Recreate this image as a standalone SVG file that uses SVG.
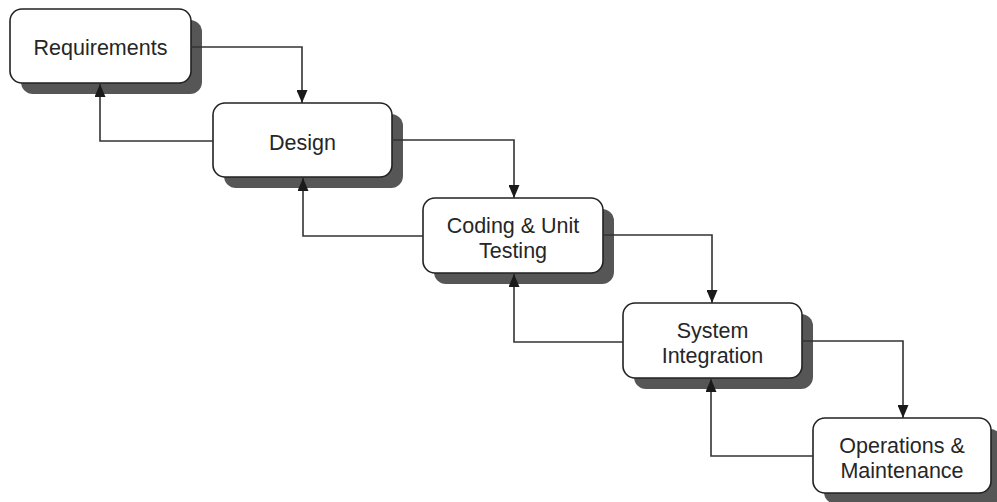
<svg xmlns="http://www.w3.org/2000/svg" width="997" height="502" viewBox="0 0 997 502">
  <style>
    .shadow { fill: #565656; }
    .box { fill: #ffffff; stroke: #222222; stroke-width: 1.6; }
    .label { font-family: "Liberation Sans", Arial, sans-serif; font-size: 21.5px; fill: #262626; text-anchor: middle; }
    .wire { fill: none; stroke: #333333; stroke-width: 1.6; }
  </style>
  <defs>
    <marker id="arrow" viewBox="0 0 13 11" refX="13" refY="5.5" markerWidth="13" markerHeight="11" markerUnits="userSpaceOnUse" orient="auto">
      <path d="M0,0 L13,5.5 L0,11 z" fill="#1a1a1a"/>
    </marker>
  </defs>

  <rect width="997" height="502" fill="#ffffff"/>

  <g id="requirements">
    <rect class="shadow" x="21" y="20" width="181" height="74" rx="12"/>
    <rect class="box" x="10" y="9" width="181" height="74" rx="12"/>
    <text class="label" x="100.5" y="54.5">Requirements</text>
  </g>

  <g id="design">
    <rect class="shadow" x="224" y="114" width="179" height="74" rx="12"/>
    <rect class="box" x="213" y="103" width="179" height="74" rx="12"/>
    <text class="label" x="302.5" y="150">Design</text>
  </g>

  <g id="coding">
    <rect class="shadow" x="434" y="209" width="180" height="75" rx="12"/>
    <rect class="box" x="423" y="198" width="180" height="75" rx="12"/>
    <text class="label" x="513" y="232.5">Coding &amp; Unit</text>
    <text class="label" x="513" y="257.5">Testing</text>
  </g>

  <g id="integration">
    <rect class="shadow" x="634" y="314" width="179" height="75" rx="12"/>
    <rect class="box" x="623" y="303" width="179" height="75" rx="12"/>
    <text class="label" x="712.5" y="337.5">System</text>
    <text class="label" x="712.5" y="362.5">Integration</text>
  </g>

  <g id="operations">
    <rect class="shadow" x="824" y="429" width="178" height="75" rx="12"/>
    <rect class="box" x="813" y="418" width="178" height="75" rx="12"/>
    <text class="label" x="902" y="452.5">Operations &amp;</text>
    <text class="label" x="902" y="477.5">Maintenance</text>
  </g>

  <!-- connectors: forward flow down the cascade, feedback back up (drawn over the shadows) -->
  <g id="connectors">
    <path class="wire" d="M191,47 H302 V103" marker-end="url(#arrow)"/>
    <path class="wire" d="M392,140 H514 V198" marker-end="url(#arrow)"/>
    <path class="wire" d="M603,235 H712 V303" marker-end="url(#arrow)"/>
    <path class="wire" d="M802,341 H903 V418" marker-end="url(#arrow)"/>

    <path class="wire" d="M213,141 H100 V84" marker-end="url(#arrow)"/>
    <path class="wire" d="M423,236 H303 V178" marker-end="url(#arrow)"/>
    <path class="wire" d="M623,342 H514 V274" marker-end="url(#arrow)"/>
    <path class="wire" d="M813,456 H711 V379" marker-end="url(#arrow)"/>
  </g>
</svg>
